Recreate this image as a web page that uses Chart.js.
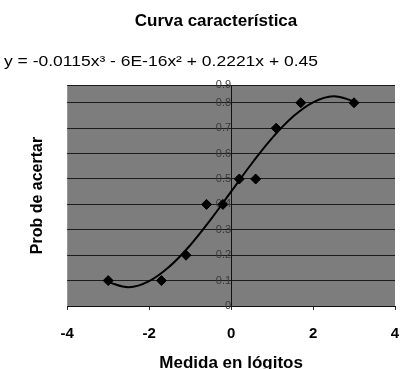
<!DOCTYPE html>
<html>
<head>
<meta charset="utf-8">
<script src="https://cdn.jsdelivr.net/npm/chart.js@4/dist/chart.umd.min.js"></script>
<style>
  html, body { margin: 0; padding: 0; background: #fff; }
  #wrap { width: 401px; height: 369px; }
</style>
</head>
<body>
<div id="wrap"><canvas id="c"></canvas></div>
<script>
// observed points (medida en lógitos, prob de acertar)
const pointX = [-3.0, -1.7, -1.1, -0.6, -0.2, 0.2, 0.6, 1.1, 1.7, 3.0];
const pointY = [0.1, 0.1, 0.2, 0.4, 0.4, 0.5, 0.5, 0.7, 0.8, 0.8];

// polynomial trendline
const trendX = [-3, -2.5, -2, -1.5, -1, -0.5, 0, 0.5, 1, 1.5, 2, 2.5, 3];
const trendY = [0.094, 0.074, 0.098, 0.156, 0.239, 0.340, 0.45, 0.560, 0.661, 0.744, 0.802, 0.826, 0.806];

const xTicks = [-4, -2, 0, 2, 4];
const yTicks = [0, 0.1, 0.2, 0.3, 0.4, 0.5, 0.6, 0.7, 0.8, 0.9];

const chartTitle = 'Curva característica';
const equation = 'y = -0.0115x³ - 6E-16x² + 0.2221x + 0.45';
const xTitle = 'Medida en lógitos';
const yTitle = 'Prob de acertar';

const FONT = '"Liberation Sans", Arial, sans-serif';

// gray plot background + free texts (title, equation)
const plotDecor = {
    id: 'plotDecor',
    beforeDraw(chart) {
        const { ctx, chartArea: a } = chart;
        ctx.save();
        ctx.fillStyle = '#7d7d7d';
        ctx.fillRect(a.left, a.top, a.right - a.left, a.bottom - a.top);
        ctx.restore();
    },
    afterDraw(chart) {
        const ctx = chart.ctx;
        ctx.save();
        ctx.fillStyle = '#000';
        ctx.textBaseline = 'middle';
        ctx.font = 'bold 17px ' + FONT;
        ctx.textAlign = 'center';
        ctx.fillText(chartTitle, 216, 21);
        // the equation is a bit wider than plain Arial: stretch it to ~314px
        ctx.font = '15px ' + FONT;
        ctx.textAlign = 'left';
        const w = ctx.measureText(equation).width;
        ctx.translate(4, 62);
        ctx.scale(314 / w, 1);
        ctx.fillText(equation, 0, 0);
        ctx.restore();
    }
};

new Chart(document.getElementById('c'), {
    type: 'scatter',
    data: {
        datasets: [
            {
                label: 'Datos',
                data: pointX.map((x, i) => ({ x, y: pointY[i] })),
                pointStyle: 'rectRot', pointRadius: 5,
                backgroundColor: '#000', borderColor: '#000', borderWidth: 1,
                showLine: false, order: 1
            },
            {
                label: 'Tendencia',
                data: trendX.map((x, i) => ({ x, y: trendY[i] })),
                showLine: true, pointRadius: 0, borderColor: '#000', borderWidth: 2,
                tension: 0.4, fill: false, order: 2
            }
        ]
    },
    options: {
        responsive: true, maintainAspectRatio: false, animation: false,
        layout: { padding: { left: 28, top: 85, right: 3, bottom: -3 } },
        plugins: { legend: { display: false }, tooltip: { enabled: false }, title: { display: false } },
        scales: {
            x: {
                type: 'linear', min: -4, max: 4,
                afterBuildTicks: s => { s.ticks = xTicks.map(v => ({ value: v })); },
                // fixed axis height, and let the edge labels hang out of the plot like the original
                afterFit: s => { s.height = 66; s.paddingLeft = 0; s.paddingRight = 0; },
                grid: { drawOnChartArea: false, drawTicks: true, tickLength: 4, color: '#333' },
                border: { display: true, color: '#111', width: 1 },
                ticks: { color: '#000', font: { family: FONT, size: 15, weight: 'bold', lineHeight: 1 }, padding: 16 },
                title: { display: true, text: xTitle, color: '#000', font: { family: FONT, size: 17, weight: 'bold', lineHeight: 1 }, padding: { top: 14, bottom: 0 } }
            },
            y: {
                type: 'linear', min: 0, max: 0.87,
                position: { x: 0 },
                afterBuildTicks: s => {
                    s.ticks = yTicks.filter(v => v <= s.max + 0.05).map(v => ({ value: Math.min(v, s.max) }));
                },
                grid: { color: '#1c1c1c', lineWidth: 1, drawTicks: false },
                border: { display: true, color: '#111', width: 1 },
                ticks: {
                    color: '#3a3a3a', font: { family: FONT, size: 11 }, padding: 3,
                    callback: v => String(Math.round(v * 10) / 10)
                }
            },
            yt: {
                type: 'linear', position: 'left', min: 0, max: 1,
                grid: { display: false }, border: { display: false },
                ticks: { display: false },
                title: { display: true, text: yTitle, color: '#000', font: { family: FONT, size: 16, weight: 'bold' }, padding: { top: 0, bottom: 12 } }
            }
        }
    },
    plugins: [plotDecor]
});
</script>
</body>
</html>
